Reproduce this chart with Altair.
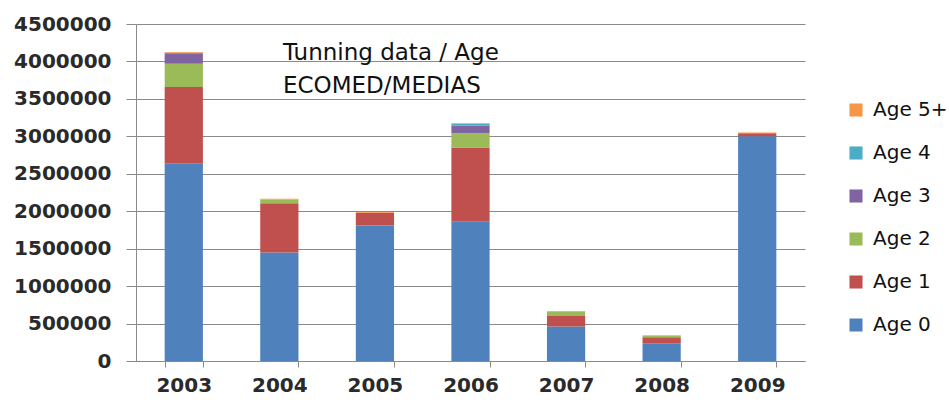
import altair as alt
import pandas as pd

# Tuna catch by age class, ECOMED/MEDIAS surveys
years = ["2003", "2004", "2005", "2006", "2007", "2008", "2009"]
ages = ["Age 0", "Age 1", "Age 2", "Age 3", "Age 4", "Age 5+"]
colors = ["#4F81BD", "#C0504D", "#9BBB59", "#8064A2", "#4BACC6", "#F79646"]

age0 = [2640000, 1450000, 1810000, 1860000, 460000, 236000, 3000000]
age1 = [1020000, 656000, 170000, 990000, 141000, 80000, 40000]
age2 = [310000, 50000, 0, 190000, 60000, 20000, 0]
age3 = [140000, 0, 0, 100000, 0, 0, 0]
age4 = [5000, 0, 0, 30000, 0, 0, 0]
age5 = [10000, 10000, 10000, 5000, 8000, 8000, 10000]
series = [age0, age1, age2, age3, age4, age5]

y_ticks = [0, 500000, 1000000, 1500000, 2000000, 2500000, 3000000, 3500000, 4000000, 4500000]
title_lines = ["Tunning data / Age", "ECOMED/MEDIAS"]

rows = []
for rank, (age, values) in enumerate(zip(ages, series)):
    for year, v in zip(years, values):
        if v > 0:
            rows.append({"year": year, "age": age, "rank": rank, "count": v})
df = pd.DataFrame(rows)

FONT = "DejaVu Sans"
GRID = "#8a8a8a"

bars = alt.Chart(df).mark_bar().encode(
    x=alt.X(
        "year:N",
        sort=years,
        scale=alt.Scale(paddingInner=0.6, paddingOuter=0.3),
        axis=alt.Axis(
            title=None, labelAngle=0, tickBand="extent", tickSize=6,
            tickColor=GRID, domainColor=GRID, labelFont=FONT, labelFontSize=20,
            labelFontWeight="bold", labelColor="#2a2a2a", labelPadding=8,
        ),
    ),
    y=alt.Y(
        "count:Q",
        stack="zero",
        scale=alt.Scale(domain=[0, 4500000], nice=False),
        axis=alt.Axis(
            title=None, values=y_ticks, format="d", grid=True, gridColor=GRID,
            tickSize=10, tickColor=GRID, domainColor=GRID, labelFont=FONT,
            labelFontSize=20, labelFontWeight="bold", labelColor="#2a2a2a",
            labelPadding=15,
        ),
    ),
    color=alt.Color(
        "age:N",
        scale=alt.Scale(domain=ages[::-1], range=colors[::-1]),
        legend=alt.Legend(
            title=None, orient="none", legendX=710, legendY=76,
            symbolType="square", symbolSize=170, symbolStrokeWidth=0,
            labelFont=FONT, labelFontSize=20, labelColor="#111111",
            labelOffset=7, rowPadding=23, padding=0,
        ),
    ),
    order=alt.Order("rank:Q", sort="ascending"),
)

title_layers = []
for i, line in enumerate(title_lines):
    title_layers.append(
        alt.Chart(pd.DataFrame({"t": [line]})).mark_text(
            align="left", baseline="alphabetic", font=FONT, fontSize=23,
            color="#111111",
        ).encode(text="t:N", x=alt.value(147), y=alt.value(36 + 33 * i))
    )

chart = alt.layer(bars, *title_layers).properties(
    width=669,
    height=337,
    autosize=alt.AutoSizeParams(type="none"),
    padding={"left": 136, "top": 24, "right": 144, "bottom": 48},
    background="white",
).configure_view(stroke=None)

chart.save("out.html", embed_options={"renderer": "svg", "actions": False})
